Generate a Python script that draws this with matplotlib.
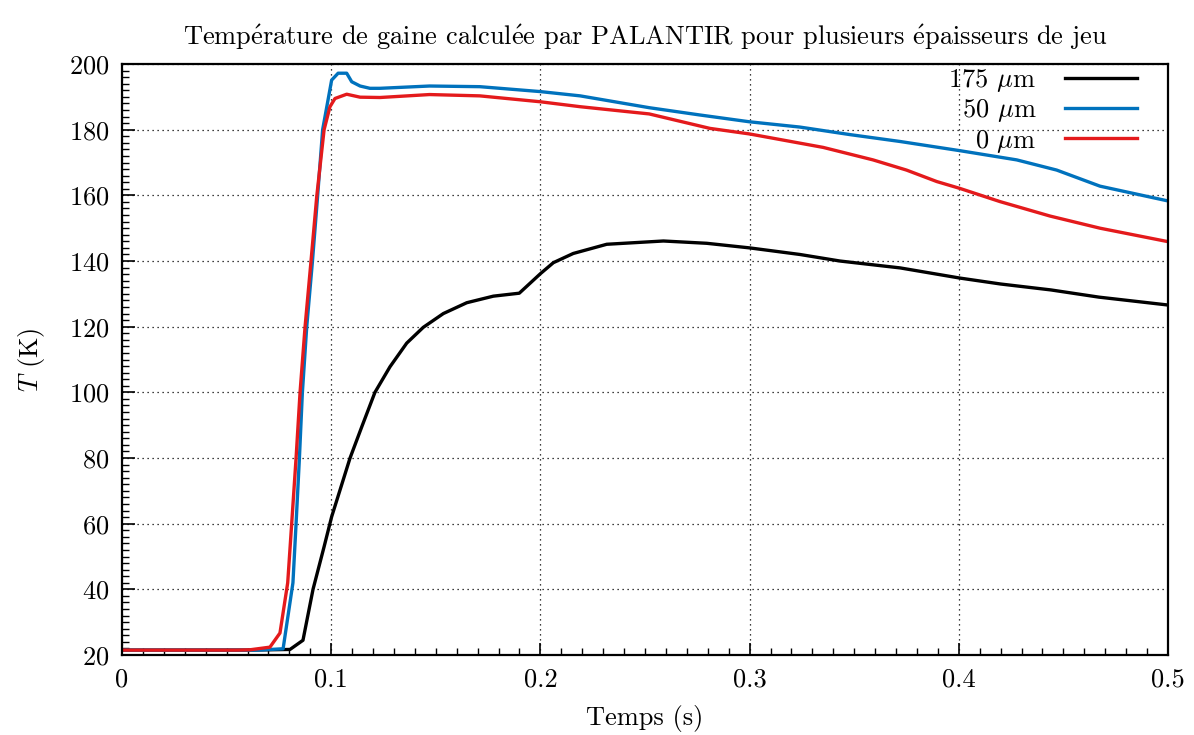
import matplotlib
matplotlib.use("Agg")
import matplotlib.pyplot as plt
from matplotlib.ticker import MultipleLocator

plt.rcParams['font.family'] = ['cmr10', 'DejaVu Serif']
plt.rcParams['mathtext.fontset'] = 'cm'
plt.rcParams['axes.unicode_minus'] = False
plt.rcParams['axes.formatter.use_mathtext'] = True

# 175 um
t_175 = [0.0, 0.06, 0.0803, 0.0865, 0.0913, 0.0966, 0.1002, 0.109, 0.1146, 0.1209, 0.1281,
         0.1361, 0.144, 0.1536, 0.1648, 0.1775, 0.1899, 0.195, 0.2001, 0.2062, 0.2157,
         0.2317, 0.2588, 0.2795, 0.300, 0.324, 0.3432, 0.372, 0.4006, 0.420, 0.444,
         0.467, 0.500]
T_175 = [21.5, 21.5, 21.7, 24.5, 40.0, 53.0, 62.1, 80.0, 89.5, 100.0, 107.8,
         115.0, 119.8, 124.0, 127.3, 129.3, 130.2, 133.2, 136.2, 139.5, 142.3,
         145.1, 146.1, 145.4, 144.0, 142.0, 140.0, 137.9, 134.8, 133.0, 131.2,
         129.0, 126.6]

# 50 um
t_50 = [0.0, 0.065, 0.077, 0.0817, 0.0832, 0.0848, 0.0862, 0.0883, 0.091, 0.0935, 0.0959,
        0.1002, 0.1033, 0.1074, 0.1098, 0.1138, 0.1185, 0.1233, 0.147, 0.171, 0.200,
        0.219, 0.252, 0.276, 0.300, 0.324, 0.348, 0.372, 0.4006, 0.4277, 0.4468,
        0.4675, 0.500]
T_50 = [21.5, 21.5, 21.9, 42.0, 60.0, 80.0, 99.8, 120.0, 139.7, 159.8, 180.0,
        195.1, 197.2, 197.2, 194.6, 193.3, 192.6, 192.6, 193.3, 193.1, 191.6,
        190.3, 186.7, 184.5, 182.4, 180.8, 178.5, 176.4, 173.6, 170.8, 167.7,
        162.8, 158.3]

# 0 um
t_0 = [0.0, 0.055, 0.0612, 0.0707, 0.0755, 0.0792, 0.0811, 0.0832, 0.0851, 0.0875, 0.0903,
       0.0931, 0.0966, 0.0994, 0.1018, 0.1074, 0.1138, 0.1233, 0.147, 0.171, 0.200,
       0.219, 0.252, 0.281, 0.300, 0.3352, 0.359, 0.375, 0.3895, 0.4006,
       0.4197, 0.4436, 0.4675, 0.500]
T_0 = [21.5, 21.5, 21.6, 22.4, 26.7, 42.0, 60.0, 80.0, 100.0, 120.0, 139.7,
       159.8, 180.0, 187.0, 189.5, 190.8, 189.9, 189.8, 190.7, 190.3, 188.5,
       187.0, 184.8, 180.4, 178.7, 174.6, 170.8, 167.7, 164.2, 162.1,
       158.1, 153.7, 150.0, 145.9]

fig = plt.figure(figsize=(11.94, 7.35), dpi=100)
ax = fig.add_axes([0.1022, 0.1088, 0.8760, 0.8041])

ax.plot(t_175, T_175, color='black', lw=2.4, label=r'175 $\mu$m')
ax.plot(t_50, T_50, color='#0072bd', lw=2.4, label=r'50 $\mu$m')
ax.plot(t_0, T_0, color='#e41a1c', lw=2.4, label=r'0 $\mu$m')

ax.set_xlim(0, 0.5)
ax.set_ylim(20, 200)
ax.set_xticks([0, 0.1, 0.2, 0.3, 0.4, 0.5])
ax.set_xticklabels(['0', '0.1', '0.2', '0.3', '0.4', '0.5'])
ax.xaxis.set_minor_locator(MultipleLocator(0.01))
ax.yaxis.set_major_locator(MultipleLocator(20))
ax.yaxis.set_minor_locator(MultipleLocator(2))
ax.tick_params(which='both', direction='in', top=False, right=False, labelsize=19)
ax.tick_params(which='major', length=9, width=1.2, pad=9)
ax.tick_params(which='minor', length=5, width=1.0)
for s in ax.spines.values():
    s.set_linewidth(1.6)

ax.grid(True, which='major', color='black', linestyle=(0, (1, 3)), linewidth=0.9)

ax.set_xlabel('Temps (s)', fontsize=19, labelpad=10)
ax.set_ylabel(r'$T$ (K)', fontsize=19, labelpad=16)
ax.set_title(r'Temp$\mathrm{\acute{e}}$rature de gaine calcul$\mathrm{\acute{e}}$e par PALANTIR'
             r' pour plusieurs $\mathrm{\acute{e}}$paisseurs de jeu',
             fontsize=19, pad=14)

leg = ax.legend(loc='upper right', frameon=False, markerfirst=False, fontsize=19,
                handlelength=2.7, handletextpad=1.1, labelspacing=0.12,
                borderaxespad=0.0, borderpad=0.2, bbox_to_anchor=(0.975, 1.0035))
for t in leg.get_texts():
    t.set_ha('right')

fig.savefig('out.png', dpi=100)
